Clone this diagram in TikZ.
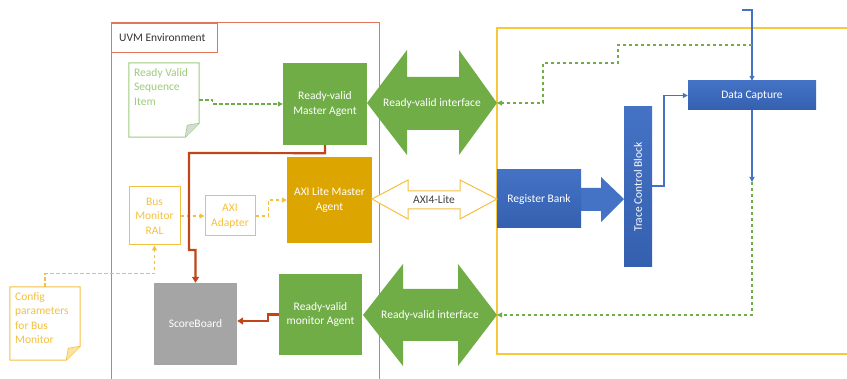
\documentclass[tikz,border=0pt]{standalone}
\usepackage{fontspec}
\setmainfont{Carlito}
\usetikzlibrary{arrows.meta}
\definecolor{agentgreen}{HTML}{70AD47}
\definecolor{softgreen}{HTML}{9DCB7E}
\definecolor{axigold}{HTML}{DCA500}
\definecolor{softyellow}{HTML}{F4C040}
\definecolor{dutyellow}{HTML}{F8C83A}
\definecolor{blockblue}{HTML}{4472C4}
\definecolor{deepblue}{HTML}{3560B0}
\definecolor{sbgray}{HTML}{A5A5A5}
\definecolor{rustred}{HTML}{C0461A}
\definecolor{envline}{HTML}{E0765A}
\definecolor{foldgray}{HTML}{D9D9D9}
\definecolor{foldyellow}{HTML}{FBE3A0}
\begin{document}
\begin{tikzpicture}[x=1pt,y=-1pt,
  font=\fontsize{11.5}{14.5}\selectfont,
  box/.style={inner sep=0pt, align=center, text=white},
  greenbox/.style={box, fill=agentgreen},
  bluebox/.style={box, top color=blockblue, bottom color=deepblue},
  outlinebox/.style={box, draw=softyellow, line width=1pt, text=softyellow},
  redline/.style={draw=rustred, line width=2.2pt, -{Triangle[length=6pt,width=7pt]}},
  blueline/.style={draw=blockblue, line width=1.1pt, -{Triangle[length=5pt,width=5pt]}},
  gdash/.style={draw=agentgreen, line width=1.2pt, dash pattern=on 3.5pt off 2.5pt, -{Triangle[length=5pt,width=5pt]}},
  ydash/.style={draw=softyellow, line width=1.2pt, dash pattern=on 3.5pt off 2.5pt, -{Triangle[length=5pt,width=5pt]}}
]
\useasboundingbox (0,0) rectangle (847,379);

% DUT boundary (open to the right)
\draw[dutyellow, line width=1.1pt] (848,28) -- (497,28) -- (497,354) -- (848,354);

% UVM environment boundary (open at the bottom)
\draw[envline, line width=1pt] (111,380) -- (111,23) -- (379,23) -- (379,380);
\node[draw=envline, line width=1pt, minimum width=106pt, minimum height=29pt, inner sep=0pt,
      anchor=north west] (envlabel) at (111,23) {};
\node[anchor=west, text=black!80, inner sep=0pt] (envtext) at (119,37.5) {UVM Environment};

% sequence item document
\node[minimum width=70pt, minimum height=74pt, inner sep=0pt] (seq) at (164,100) {};
\draw[softgreen, line width=1pt, fill=white]
  (seq.north west) -- (seq.north east) -- ([yshift=14pt]seq.south east)
  -- ([xshift=-14pt]seq.south east) -- (seq.south west) -- cycle;
\fill[foldgray] ([yshift=14pt]seq.south east) -- ([xshift=-14pt]seq.south east) -- ([xshift=-12pt,yshift=12pt]seq.south east) -- cycle;
\draw[softgreen, line width=0.6pt] ([yshift=14pt]seq.south east) -- ([xshift=-12pt,yshift=12pt]seq.south east) -- ([xshift=-14pt]seq.south east);
\node[anchor=north west, align=left, text=softgreen, inner sep=0pt] (seqtext) at (134,68) {Ready Valid\\Sequence\\Item};

% config document
\node[minimum width=70pt, minimum height=73pt, inner sep=0pt] (cfg) at (45,323.5) {};
\draw[softyellow, line width=1pt, fill=white]
  (cfg.north west) -- (cfg.north east) -- ([yshift=14pt]cfg.south east)
  -- ([xshift=-14pt]cfg.south east) -- (cfg.south west) -- cycle;
\fill[foldyellow] ([yshift=14pt]cfg.south east) -- ([xshift=-14pt]cfg.south east) -- ([xshift=-12pt,yshift=12pt]cfg.south east) -- cycle;
\draw[softyellow, line width=0.6pt] ([yshift=14pt]cfg.south east) -- ([xshift=-12pt,yshift=12pt]cfg.south east) -- ([xshift=-14pt]cfg.south east);
\node[anchor=north west, align=left, text=softyellow, inner sep=0pt] (cfgtext) at (15,292) {Config\\parameters\\for Bus\\Monitor};

% register bank to trace control block (drawn under the blocks)
\fill[blockblue] (581,188) -- (601,188) -- (601,177) -- (624,199)
  -- (601,222) -- (601,211) -- (581,211) -- cycle;

% agents and blocks
\node[greenbox, minimum width=84pt, minimum height=82pt] (ma) at (325,104) {Ready-valid\\Master Agent};
\node[box, fill=axigold, minimum width=85pt, minimum height=86pt] (axm) at (329.5,200) {AXI Lite Master\\Agent};
\node[greenbox, minimum width=83pt, minimum height=81pt] (mon) at (320.5,314.5) {Ready-valid\\monitor Agent};
\node[box, fill=sbgray, minimum width=83pt, minimum height=82pt] (sb) at (195.5,324) {ScoreBoard};
\node[outlinebox, minimum width=51pt, minimum height=58pt] (bus) at (154.5,216) {Bus\\Monitor\\RAL};
\node[outlinebox, minimum width=50pt, minimum height=40pt] (ad) at (230,216) {AXI\\Adapter};
\node[bluebox, minimum width=84pt, minimum height=58pt] (rb) at (539,199) {Register Bank};
% rotated: north is the left side, south the right side
\node[bluebox, minimum width=160pt, minimum height=28pt, rotate=90] (tcb) at (638,187) {Trace Control Block};
\node[bluebox, minimum width=128pt, minimum height=29pt] (dc) at (752,95.5) {Data Capture};

% interface arrows
\fill[agentgreen] (367,103) -- (407,50) -- (407,77) -- (459,77) -- (459,50) -- (497,103)
  -- (459,155) -- (459,130) -- (407,130) -- (407,155) -- cycle;
\coordinate (rvt-r) at (497,103);
\node[text=white, inner sep=0pt] (rvt) at (432,103) {Ready-valid interface};

\fill[agentgreen] (363,315) -- (403,264) -- (403,289) -- (458,289) -- (458,264) -- (497,315)
  -- (458,366) -- (458,341) -- (403,341) -- (403,366) -- cycle;
\coordinate (rvb-r) at (497,315);
\node[text=white, inner sep=0pt] (rvb) at (430,315) {Ready-valid interface};

\draw[softyellow, line width=1pt, fill=white] (372,199) -- (408,180) -- (408,191) -- (460,191) -- (460,180) -- (497,199)
  -- (460,219) -- (460,209) -- (408,209) -- (408,219) -- cycle;
\node[text=black!75, inner sep=0pt] (axil) at (434,199.5) {AXI4-Lite};

% UVM-side connections
\draw[gdash] (seq.east) -- ++(13,0) |- (ma.west);
\draw[ydash] (bus.east) -- (ad.west);
\draw[ydash] (ad.east) -- ++(13,0) |- (axm.west);
\draw[ydash] (cfg.north) -- ++(0,-13) -| (bus.south);
\draw[redline] (ma.south) -- ++(0,8) -- (189,153) -- (189,250) -| (sb.north);
\draw[redline] (mon.west) -- (268,314.5) |- ([yshift=3pt]sb.east);

% DUT-side connections
\coordinate (tin) at (742,10);
\draw[blueline] (tin) -- (752,10) -- (dc.north);
\coordinate (tap) at (752,45);
\draw[gdash] (tap) -- (618,45) -- (618,63) -- (543,63) |- (rvt-r);
\draw[blueline] (tcb.south |- 0,186) -- (664,186) |- (dc.west);
\coordinate (dcout) at (752,182);
\draw[blueline] (dc.south) -- (dcout);
\draw[gdash] (dcout) |- (rvb-r);
\end{tikzpicture}
\end{document}
